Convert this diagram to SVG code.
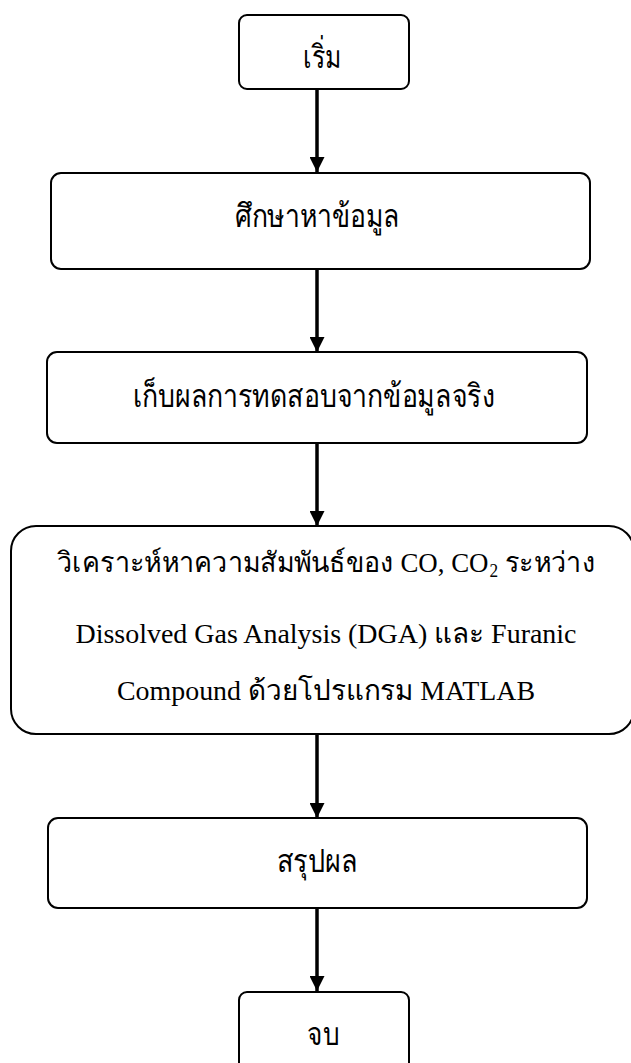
<svg xmlns="http://www.w3.org/2000/svg" width="631" height="1063" viewBox="0 0 631 1063">
<defs>
<style>
.node rect{fill:#fff;stroke:#000;stroke-width:2}
.lbl{font-family:"Liberation Serif","DejaVu Serif",serif;font-size:28px;fill:#000;text-anchor:middle}
.th{font-size:32px}
.conn line{stroke:#000;stroke-width:3.5;marker-end:url(#ah)}
</style>
<marker id="ah" markerUnits="userSpaceOnUse" markerWidth="15" markerHeight="15" refX="15" refY="7.5" orient="auto" viewBox="0 0 15 15">
<path d="M0,0 L15,7.5 L0,15 z" fill="#000"/>
</marker>
</defs>
<rect width="631" height="1063" fill="#fff"/>
<g id="connectors" class="conn">
<line x1="317" y1="89" x2="317" y2="172"/>
<line x1="317" y1="269" x2="317" y2="352"/>
<line x1="317" y1="443" x2="317" y2="526"/>
<line x1="317" y1="734" x2="317" y2="818"/>
<line x1="317" y1="908" x2="317" y2="991"/>
</g>
<g id="start" class="node">
<rect x="239" y="15" width="170" height="74" rx="8"/>
<text class="lbl th" x="322" y="68" textLength="38" lengthAdjust="spacingAndGlyphs">เริ่ม</text>
</g>
<g id="study" class="node">
<rect x="51" y="173" width="539" height="96" rx="10"/>
<text class="lbl th" x="317.5" y="227" textLength="165" lengthAdjust="spacingAndGlyphs">ศึกษาหาข้อมูล</text>
</g>
<g id="collect" class="node">
<rect x="47" y="352" width="540" height="91" rx="10"/>
<text class="lbl th" x="314" y="407" textLength="362" lengthAdjust="spacingAndGlyphs">เก็บผลการทดสอบจากข้อมูลจริง</text>
</g>
<g id="analyze" class="node">
<rect x="11" y="526" width="623" height="208" rx="25"/>
<text class="lbl" x="326" y="572" textLength="538" lengthAdjust="spacingAndGlyphs">วิเคราะห์หาความสัมพันธ์ของ CO, CO<tspan dx="1" baseline-shift="-5" font-size="18">2</tspan> ระหว่าง</text>
<text class="lbl" x="326" y="643" textLength="501" lengthAdjust="spacingAndGlyphs">Dissolved Gas Analysis (DGA) และ Furanic</text>
<text class="lbl" x="326" y="700" textLength="418" lengthAdjust="spacingAndGlyphs">Compound ด้วยโปรแกรม MATLAB</text>
</g>
<g id="conclude" class="node">
<rect x="48" y="818" width="539" height="90" rx="10"/>
<text class="lbl th" x="317" y="872" textLength="81" lengthAdjust="spacingAndGlyphs">สรุปผล</text>
</g>
<g id="end" class="node">
<rect x="239" y="992" width="170" height="90" rx="8"/>
<text class="lbl th" x="323" y="1045" textLength="32" lengthAdjust="spacingAndGlyphs">จบ</text>
</g>
</svg>
